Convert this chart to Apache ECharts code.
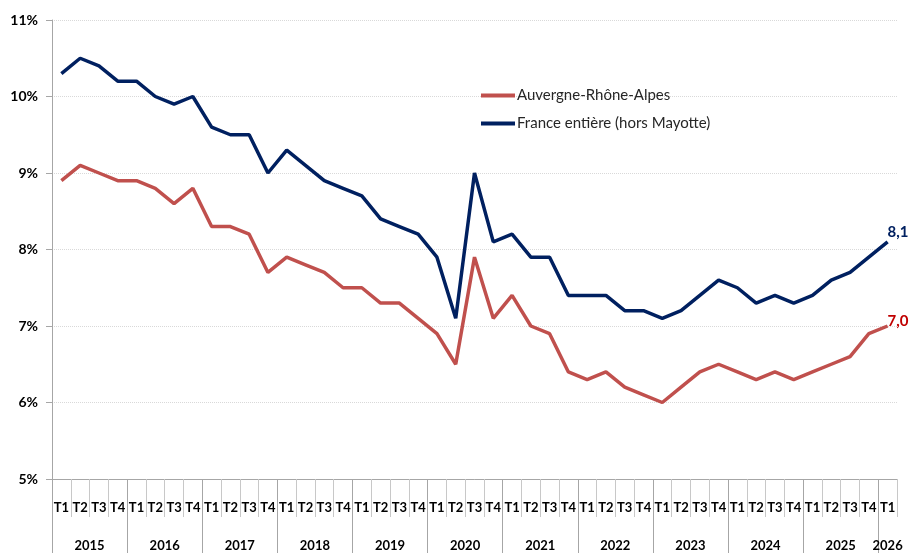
<!DOCTYPE html>
<html>
<head>
<meta charset="utf-8">
<script src="https://cdn.jsdelivr.net/npm/echarts@6/dist/echarts.min.js"></script>
<style>html,body{margin:0;padding:0;background:#fff}#c{width:913px;height:553px}</style>
</head>
<body>
<div id="c"></div>
<script>
const years = ['2015','2016','2017','2018','2019','2020','2021','2022','2023','2024','2025','2026'];
const quarters = [
  'T1','T2','T3','T4','T1','T2','T3','T4','T1','T2','T3','T4',
  'T1','T2','T3','T4','T1','T2','T3','T4','T1','T2','T3','T4',
  'T1','T2','T3','T4','T1','T2','T3','T4','T1','T2','T3','T4',
  'T1','T2','T3','T4','T1','T2','T3','T4','T1'
];
const auvergne = [
  8.9, 9.1, 9.0, 8.9,  8.9, 8.8, 8.6, 8.8,  8.3, 8.3, 8.2, 7.7,
  7.9, 7.8, 7.7, 7.5,  7.5, 7.3, 7.3, 7.1,  6.9, 6.5, 7.9, 7.1,
  7.4, 7.0, 6.9, 6.4,  6.3, 6.4, 6.2, 6.1,  6.0, 6.2, 6.4, 6.5,
  6.4, 6.3, 6.4, 6.3,  6.4, 6.5, 6.6, 6.9,  7.0
];
const france = [
  10.3, 10.5, 10.4, 10.2,  10.2, 10.0, 9.9, 10.0,  9.6, 9.5, 9.5, 9.0,
  9.3, 9.1, 8.9, 8.8,  8.7, 8.4, 8.3, 8.2,  7.9, 7.1, 9.0, 8.1,
  8.2, 7.9, 7.9, 7.4,  7.4, 7.4, 7.2, 7.2,  7.1, 7.2, 7.4, 7.6,
  7.5, 7.3, 7.4, 7.3,  7.4, 7.6, 7.7, 7.9,  8.1
];
const seriesNames = ['Auvergne-Rhône-Alpes', 'France entière (hors Mayotte)'];

// year axis on half-quarter resolution (boundaryGap false)
const nHalf = quarters.length * 2 + 1;
const yearAxis = new Array(nHalf).fill('');
years.forEach((y, k) => {
  const nq = Math.min(4, quarters.length - k * 4);
  yearAxis[k * 8 + nq] = y;
});

const fmt = v => Number(v).toFixed(1).replace('.', ',');
const FONT = 'Lato';
function endLabel(color, offY) {
  return { show: true, distance: 0, offset: [0, offY], formatter: p => fmt(p.value),
    color: color, fontWeight: 'bold', fontSize: 15, fontFamily: FONT };
}

const chart = echarts.init(document.getElementById('c'), null, { renderer: 'canvas' });
chart.setOption({
  animation: false,
  backgroundColor: '#fff',
  grid: { left: 52, right: 16, top: 20, bottom: 74, containLabel: false },
  legend: {
    orient: 'vertical', left: 476, top: 83,
    itemWidth: 34, itemHeight: 4, itemGap: 13, icon: 'rect',
    textStyle: { fontFamily: FONT, fontSize: 15, color: '#262626', padding: [0, 0, 0, -3] },
    data: seriesNames
  },
  xAxis: [{
    type: 'category', data: quarters, boundaryGap: true, position: 'bottom',
    axisLine: { show: true, lineStyle: { color: '#a6a6a6', width: 1 } },
    axisTick: { show: true, interval: 0, length: 38, lineStyle: { color: '#c8c8c8' } },
    axisLabel: { interval: 0, margin: 22, fontFamily: FONT, fontWeight: 'bold', fontSize: 13, color: '#000' },
    splitLine: { show: false }
  }, {
    type: 'category', data: yearAxis, boundaryGap: false, position: 'bottom',
    axisLine: { show: false },
    axisTick: { show: true, interval: (i) => i % 8 === 0 && i < nHalf - 1, length: 74, lineStyle: { color: '#a6a6a6' } },
    axisLabel: { interval: 0, margin: 60, fontFamily: FONT, fontWeight: 'bold', fontSize: 13, color: '#000' },
    splitLine: { show: false }
  }],
  yAxis: {
    type: 'value', min: 5, max: 11, interval: 1,
    axisLine: { show: true, lineStyle: { color: '#a6a6a6', width: 1 } },
    axisTick: { show: true, length: 6, lineStyle: { color: '#a6a6a6' } },
    axisLabel: { margin: 14, formatter: v => v + '%', fontFamily: FONT, fontWeight: 'bold', fontSize: 14, color: '#000' },
    splitLine: { show: true, lineStyle: { color: '#d9d9d9', type: 'dotted', width: 1 } }
  },
  series: [{
    name: seriesNames[0], type: 'line', xAxisIndex: 0, data: auvergne,
    symbol: 'none', lineStyle: { color: '#C0504D', width: 3.5 }, itemStyle: { color: '#C0504D' },
    endLabel: endLabel('#C00000', -5)
  }, {
    name: seriesNames[1], type: 'line', xAxisIndex: 0, data: france,
    symbol: 'none', lineStyle: { color: '#002060', width: 3.5 }, itemStyle: { color: '#002060' },
    endLabel: endLabel('#002060', -10)
  }]
});
</script>
</body>
</html>
